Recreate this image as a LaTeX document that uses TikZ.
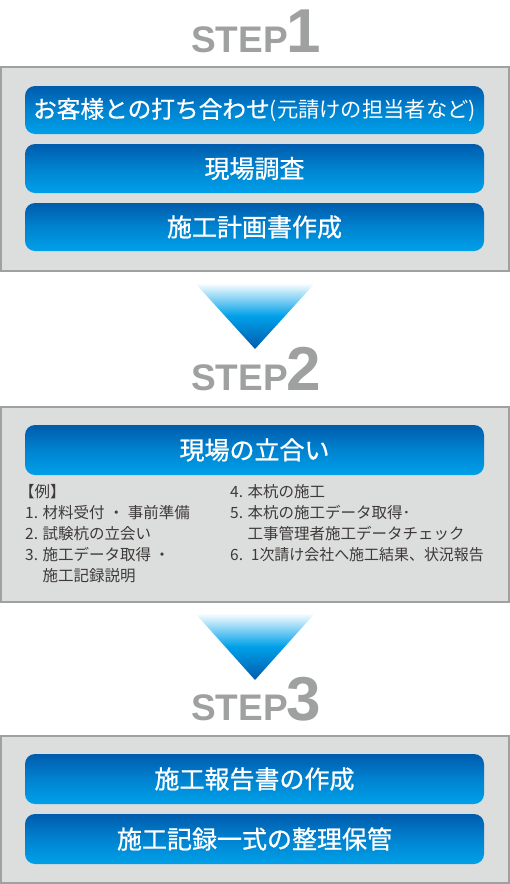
\documentclass[tikz,border=0pt]{standalone}
\usepackage{fontspec}
\usepackage{graphicx}
\setmainfont{Noto Sans CJK JP}
\newfontfamily\btnfont{Noto Sans CJK JP}[FakeBold=0.8]
\newfontfamily\subfont{Noto Sans CJK JP}
\newfontfamily\stepfont{Liberation Sans}
\definecolor{stepgray}{HTML}{9FA0A0}
\definecolor{panelfill}{HTML}{DCDDDD}
\definecolor{panelline}{HTML}{A0A0A0}
\definecolor{btntop}{HTML}{005BAC}
\definecolor{btnmid}{HTML}{0083D0}
\definecolor{btnbot}{HTML}{00A0E9}
\definecolor{listtext}{HTML}{3E3A39}
\tikzset{
  panel/.style={draw=panelline, line width=2pt, fill=panelfill},
  btn/.style={rounded corners=10pt, top color=btntop, bottom color=btnbot, middle color=btnmid,
    minimum width=459pt, text=white, inner sep=0pt, font=\btnfont\fontsize{25}{25}\selectfont},
  steplbl/.style={text=stepgray, inner sep=0pt, font=\stepfont\bfseries\fontsize{37}{37}\selectfont},
  stepnum/.style={text=stepgray, inner sep=0pt, font=\stepfont\bfseries\fontsize{62}{62}\selectfont},
  arrowtri/.style={top color=white, bottom color=btntop, middle color=btnbot},
  listline/.style={text=listtext, inner sep=0pt, anchor=base west, font=\fontsize{15.5}{15.5}\selectfont},
}
\newcommand{\numbox}[1]{\makebox[17.5pt][l]{#1}}
\begin{document}
\begin{tikzpicture}[x=1pt,y=-1pt]
\useasboundingbox (0,0) rectangle (510,884);
% STEP 1
\node[steplbl, anchor=base east] (s1) at (288,52) {STEP};
\node[stepnum, anchor=base west] (n1) at (286,52) {1};
\path[panel] (1,67) rectangle (509,271);
\node[btn, minimum height=48pt] (b1) at (254.5,110) {{\fontsize{23.7}{23.7}\selectfont お客様との打ち合わせ}{\subfont\fontsize{21.3}{21.3}\selectfont (元請けの担当者など)}};
\node[btn, minimum height=49pt] (b2) at (254.5,168.5) {現場調査};
\node[btn, minimum height=48pt] (b3) at (254.5,227) {施工計画書作成};
% arrow 1
\path[arrowtri] (195,283) -- (315,283) -- (255,349) -- cycle;
% STEP 2
\node[steplbl, anchor=base east] (s2) at (288,390.5) {STEP};
\node[stepnum, anchor=base west] (n2) at (286,390.5) {2};
\path[panel] (1,406.5) rectangle (509,601.5);
\node[btn, minimum height=50pt] (b4) at (254.5,450) {現場の立合い};
\node[listline] (l0) at (19,497) {【例】};
\node[listline] (l1) at (25,518) {\numbox{1.}材料受付\hspace{0.25em}・\hspace{0.25em}事前準備};
\node[listline] (l2) at (25,539) {\numbox{2.}試験杭の立会い};
\node[listline] (l3) at (25,560) {\numbox{3.}施工データ取得\hspace{0.2em}・};
\node[listline] (l4) at (25,581) {\numbox{}施工記録説明};
\node[listline] (r1) at (230,497) {\numbox{4.}本杭の施工};
\node[listline] (r2) at (230,518) {\numbox{5.}本杭の施工データ取得･};
\node[listline] (r3) at (230,539) {\numbox{}工事管理者施工データチェック};
\node[listline] (r4) at (230,560) {\makebox[21pt][l]{6.}\scalebox{0.965}[1]{1次請け会社へ施工結果、状況報告}};
% arrow 2
\path[arrowtri] (195,613) -- (315,613) -- (255,680) -- cycle;
% STEP 3
\node[steplbl, anchor=base east] (s3) at (288,720) {STEP};
\node[stepnum, anchor=base west] (n3) at (286,720) {3};
\path[panel] (1,736) rectangle (509,883);
\node[btn, minimum height=50pt] (b5) at (254.5,779) {施工報告書の作成};
\node[btn, minimum height=50pt] (b6) at (254.5,839) {施工記録一式の整理保管};
\end{tikzpicture}
\end{document}
